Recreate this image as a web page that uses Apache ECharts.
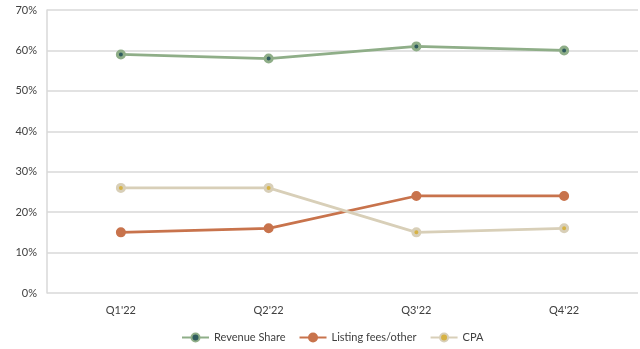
<!DOCTYPE html>
<html>
<head>
<meta charset="utf-8">
<script src="https://cdn.jsdelivr.net/npm/echarts@6/dist/echarts.min.js"></script>
<style>
  html, body { margin: 0; padding: 0; background: #fff; }
  #chart { width: 640px; height: 349px; }
</style>
</head>
<body>
<div id="chart"></div>
<script>
// Quarterly mix of revenue sources, 2022
const quarters = ["Q1'22", "Q2'22", "Q3'22", "Q4'22"];
const revenueShare = [59, 58, 61, 60];
const listingFees = [15, 16, 24, 24];
const cpa = [26, 26, 15, 16];

const textColor = '#404040';
const fontFamily = 'Lato, Carlito, sans-serif';

function lineSeries(name, data, lineColor, dotColor) {
  return {
    name: name,
    type: 'line',
    data: data,
    symbol: 'circle',
    symbolSize: 7,
    showAllSymbol: true,
    lineStyle: { color: lineColor, width: 2.75 },
    itemStyle: { color: dotColor, borderColor: lineColor, borderWidth: 3 },
    emphasis: { disabled: true },
    animation: false
  };
}

const chart = echarts.init(document.getElementById('chart'));
chart.setOption({
  animation: false,
  textStyle: { fontFamily: fontFamily },
  grid: { left: 47, right: 2, top: 10, bottom: 56, containLabel: false },
  xAxis: {
    type: 'category',
    data: quarters,
    boundaryGap: true,
    axisLine: { show: false },
    axisTick: { show: false },
    axisLabel: { color: textColor, fontSize: 11, margin: 12, fontFamily: fontFamily }
  },
  yAxis: {
    type: 'value',
    min: 0,
    max: 70,
    interval: 10,
    axisLine: { show: true, lineStyle: { color: '#d9d9d9', width: 1.5 } },
    axisTick: { show: false },
    axisLabel: { color: textColor, fontSize: 11, margin: 10, formatter: '{value}%', fontFamily: fontFamily },
    splitLine: { lineStyle: { color: '#d9d9d9', width: 1.5 } }
  },
  legend: {
    bottom: 1,
    left: 176,
    itemWidth: 27,
    itemHeight: 10,
    itemGap: 13,
    textStyle: { color: textColor, fontSize: 11, fontFamily: fontFamily },
    data: ['Revenue Share', 'Listing fees/other', 'CPA']
  },
  series: [
    lineSeries('Revenue Share', revenueShare, '#8fae88', '#2f5b5e'),
    lineSeries('Listing fees/other', listingFees, '#c8734c', '#c8734c'),
    lineSeries('CPA', cpa, '#d8cfb8', '#d6b244')
  ]
});
</script>
</body>
</html>
